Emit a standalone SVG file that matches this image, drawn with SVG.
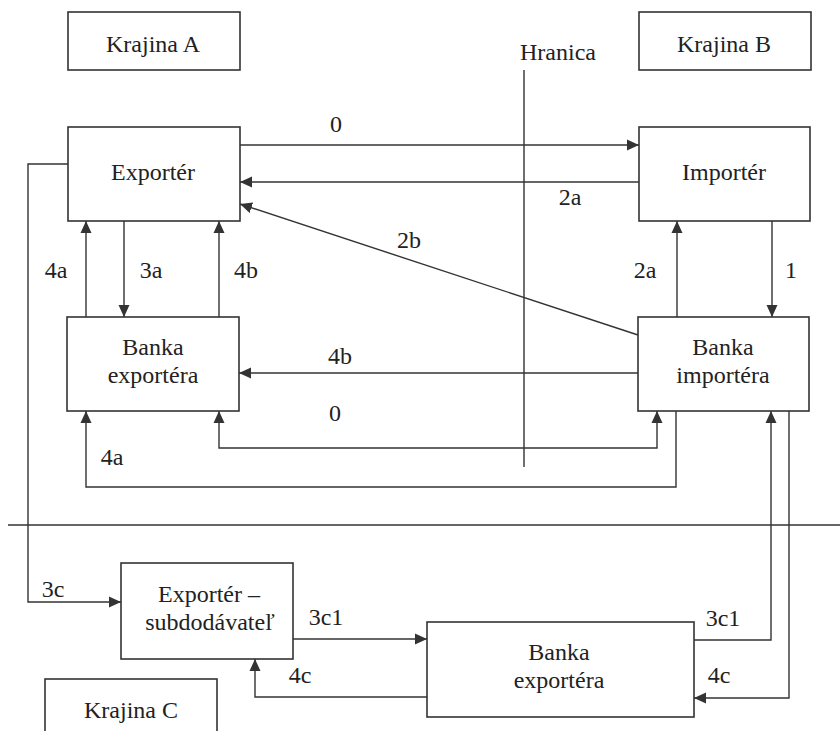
<svg xmlns="http://www.w3.org/2000/svg" width="840" height="731" viewBox="0 0 840 731">
<style>
.box{fill:#fff;stroke:#333;stroke-width:1.6}
.ln{fill:none;stroke:#333;stroke-width:1.4}
.arr{marker-end:url(#ah)}
.both{marker-start:url(#ah);marker-end:url(#ah)}
text{font-family:'Liberation Serif','DejaVu Serif',serif;font-size:24px;fill:#222;text-anchor:middle}
</style>
<defs>
<marker id="ah" viewBox="0 0 12 12" refX="12" refY="6" markerWidth="12" markerHeight="12" markerUnits="userSpaceOnUse" orient="auto-start-reverse">
<path d="M0,0.5 L12,6 L0,11.5 Z" fill="#333"/>
</marker>
</defs>
<rect width="840" height="731" fill="#fff"/>
<g id="borders" font-family="Liberation Serif, DejaVu Serif, serif">
<line class="ln" x1="524" y1="70" x2="524" y2="467"/>
<line class="ln" x1="8" y1="525" x2="840" y2="525"/>
<text x="558" y="60">Hranica</text>
</g>
<g id="krajinaA"><rect class="box" x="68" y="12" width="172" height="58"/><text x="153" y="52">Krajina A</text></g>
<g id="krajinaB"><rect class="box" x="639" y="12" width="172" height="58"/><text x="724" y="52">Krajina B</text></g>
<g id="krajinaC"><rect class="box" x="45" y="679" width="172" height="60"/><text x="131" y="718">Krajina C</text></g>
<g id="exporter"><rect class="box" x="68" y="127" width="172" height="94"/><text x="153" y="180">Exportér</text></g>
<g id="importer"><rect class="box" x="639" y="127" width="171" height="94"/><text x="724" y="180">Importér</text></g>
<g id="bankaExportera"><rect class="box" x="67" y="317" width="172" height="94"/><text x="153" y="355">Banka</text><text x="153" y="383">exportéra</text></g>
<g id="bankaImportera"><rect class="box" x="638" y="317" width="171" height="94"/><text x="723" y="355">Banka</text><text x="723" y="383">importéra</text></g>
<g id="subdodavatel"><rect class="box" x="121" y="563" width="172" height="96"/><text x="209" y="602">Exportér –</text><text x="210" y="630">subdodávateľ</text></g>
<g id="bankaExporteraC"><rect class="box" x="427" y="622" width="267" height="95"/><text x="559" y="660">Banka</text><text x="559" y="688">exportéra</text></g>
<g id="connectors">
<line class="ln arr" x1="240" y1="145" x2="639" y2="145"/>
<line class="ln arr" x1="639" y1="182" x2="240" y2="182"/>
<line class="ln arr" x1="638" y1="335" x2="240" y2="204"/>
<line class="ln arr" x1="86" y1="317" x2="86" y2="221"/>
<line class="ln arr" x1="124" y1="221" x2="124" y2="317"/>
<line class="ln arr" x1="219" y1="317" x2="219" y2="221"/>
<line class="ln arr" x1="677" y1="317" x2="677" y2="221"/>
<line class="ln arr" x1="772" y1="221" x2="772" y2="317"/>
<line class="ln arr" x1="638" y1="373" x2="239" y2="373"/>
<polyline class="ln both" points="219,411 219,448 657,448 657,411"/>
<polyline class="ln arr" points="676,411 676,487 86,487 86,411"/>
<polyline class="ln arr" points="68,164 28,164 28,602 121,602"/>
<line class="ln arr" x1="293" y1="639" x2="427" y2="639"/>
<polyline class="ln arr" points="427,697 255,697 255,659"/>
<polyline class="ln arr" points="694,640 771,640 771,411"/>
<polyline class="ln arr" points="789,411 789,698 694,698"/>
<text x="336" y="132">0</text>
<text x="570" y="205">2a</text>
<text x="409" y="248">2b</text>
<text x="56" y="278">4a</text>
<text x="151" y="278">3a</text>
<text x="246" y="278">4b</text>
<text x="645" y="278">2a</text>
<text x="791" y="278">1</text>
<text x="340" y="364">4b</text>
<text x="335" y="421">0</text>
<text x="112" y="465">4a</text>
<text x="53" y="597">3c</text>
<text x="326" y="625">3c1</text>
<text x="300" y="683">4c</text>
<text x="723" y="626">3c1</text>
<text x="719" y="683">4c</text>
</g>
</svg>
